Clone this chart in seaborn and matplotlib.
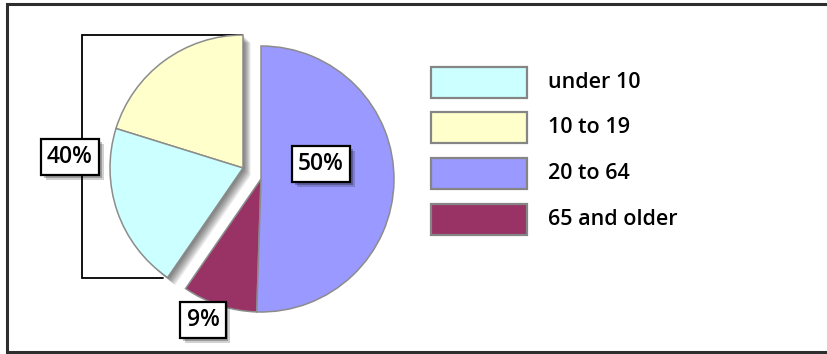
import matplotlib
matplotlib.use("Agg")
import matplotlib.pyplot as plt
import matplotlib.patheffects as pe
from matplotlib.patches import Rectangle
import seaborn as sns

# Population share by age group (percent)
categories = ["under 10", "10 to 19", "20 to 64", "65 and older"]
shares = [20, 20, 50, 9]
colors = ["#CCFFFF", "#FFFFCC", "#9999FF", "#993366"]
pulled_out = ["under 10", "10 to 19"]
group_label = "40%"          # combined share of the two pulled-out groups
slice_labels = {"20 to 64": "50%", "65 and older": "9%"}

sns.set_theme(style="white")
plt.rcParams["font.family"] = ["Open Sans", "DejaVu Sans"]

W, H = 827, 354
fig = plt.figure(figsize=(W / 100, H / 100), dpi=100)
ax = fig.add_axes([0, 0, 1, 1])

# wedge order going counter-clockwise from 12 o'clock
order = [1, 0, 3, 2]
vals = [shares[i] for i in order]
cols = [colors[i] for i in order]
moved = [categories[i] in pulled_out for i in order]

cx, cy, R = 261, 175, 133
dx, dy = -18, 11
edge = dict(edgecolor="#8c8c8c", linewidth=1.1)


def draw_pie(center, keep, palette, z, alpha=1.0, wedgeprops=None):
    wedges, _ = ax.pie(vals, colors=palette, startangle=90, counterclock=True,
                       center=center, radius=R,
                       wedgeprops=wedgeprops or {})
    for w, k in zip(wedges, keep):
        w.set_visible(k)
        w.set_zorder(z)
        w.set_alpha(alpha)
    return wedges


# main body of the pie
draw_pie((cx, cy), [not m for m in moved], cols, 2, wedgeprops=edge)

# soft drop shadow under the pulled-out wedges
for k in range(1, 10):
    draw_pie((cx + dx + k * 0.85, cy + dy - k * 0.85), moved, ["#000000"] * 4, 3,
             alpha=0.07, wedgeprops=dict(linewidth=0))

# pulled-out wedges
draw_pie((cx + dx, cy + dy), moved, cols, 4, wedgeprops=edge)

ax.set_xlim(0, W)
ax.set_ylim(0, H)
ax.set_aspect("auto")
ax.axis("off")

# bracket grouping the two pulled-out wedges
ax.plot([242, 82, 82, 163], [319.5, 319.5, 76, 76], color="black", lw=1.3,
        zorder=1, solid_joinstyle="miter")

# outer frame (top, left, bottom)
ax.plot([W, 7, 7, W], [350, 350, 2.5, 2.5], color="#2e2e2e", lw=2.2,
        zorder=1, solid_joinstyle="miter")

box_shadow = [pe.SimplePatchShadow(offset=(3.5, -3.5), shadow_rgbFace="black",
                                   alpha=0.18),
              pe.SimplePatchShadow(offset=(2, -2), shadow_rgbFace="black",
                                   alpha=0.25),
              pe.Normal()]


def boxed(x, y, s):
    t = ax.text(x, y, s, ha="center", va="center", fontsize=16.5,
                fontweight="semibold", color="black", zorder=6,
                bbox=dict(boxstyle="square,pad=0.27", fc="white", ec="black",
                          lw=1.6))
    t.get_bbox_patch().set_path_effects(box_shadow)
    return t


boxed(70, 197, group_label)
boxed(321, 190, slice_labels["20 to 64"])
boxed(203, 34, slice_labels["65 and older"])

# legend
for i, (name, c) in enumerate(zip(categories, colors)):
    yc = 272 - i * 45.7
    ax.add_patch(Rectangle((431, yc - 15.5), 96, 31, fc=c, ec="#858585",
                           lw=1.6, zorder=3))
    ax.text(548, yc, name, ha="left", va="center", fontsize=15.5,
            fontweight="semibold", color="black", zorder=3)

fig.savefig("out.png", dpi=100)
